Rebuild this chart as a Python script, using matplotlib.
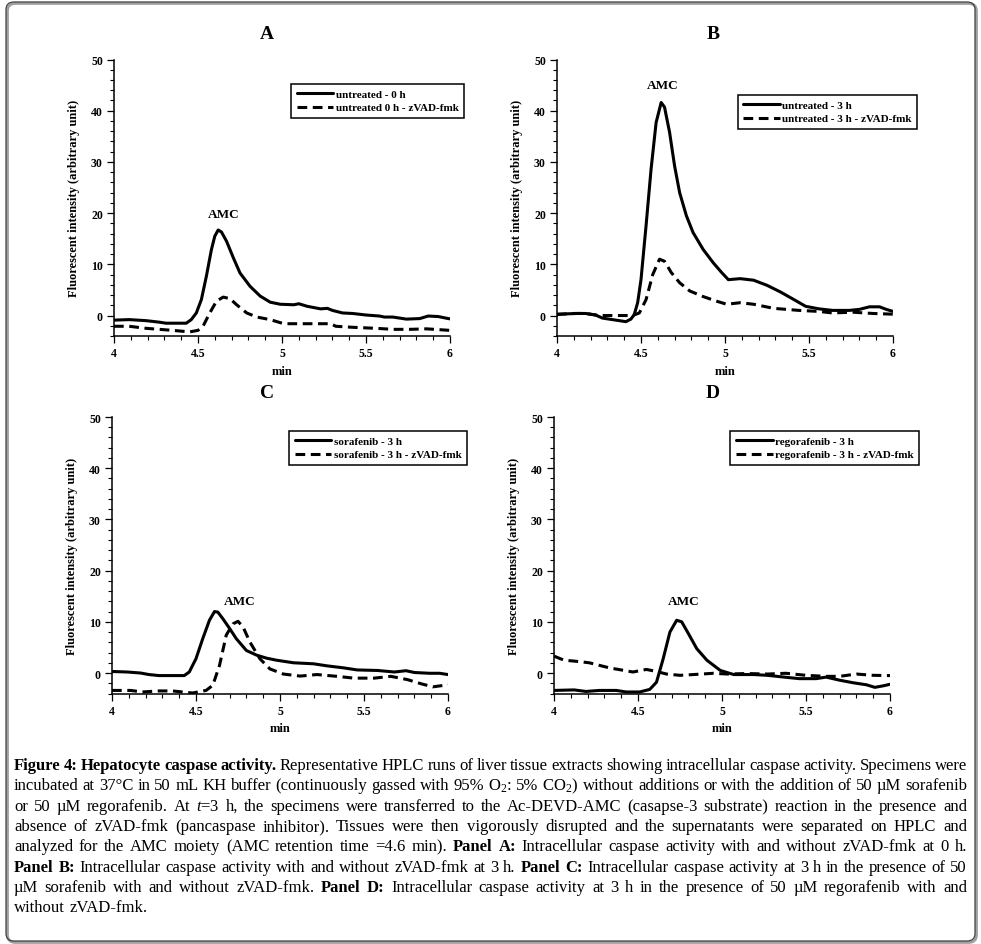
import numpy as np
import matplotlib.pyplot as plt
from matplotlib.ticker import MultipleLocator
from matplotlib.patches import FancyBboxPatch

plt.rcParams['font.family'] = 'Liberation Serif'
plt.rcParams['mathtext.fontset'] = 'custom'
plt.rcParams['mathtext.rm'] = 'Liberation Serif'
plt.rcParams['mathtext.it'] = 'Liberation Serif:italic'
plt.rcParams['mathtext.bf'] = 'Liberation Serif:bold'
plt.rcParams['lines.scale_dashes'] = False

# ---- data (min, fluorescence) ----
# Panel A
a_solid_t = [4.0, 4.09, 4.19, 4.27, 4.31, 4.43, 4.46, 4.49, 4.52, 4.55, 4.58, 4.60, 4.62, 4.64, 4.67,
             4.71, 4.75, 4.81, 4.87, 4.93, 4.99, 5.07, 5.10, 5.15, 5.23, 5.27, 5.30, 5.36, 5.42, 5.50,
             5.58, 5.61, 5.66, 5.74, 5.82, 5.87, 5.93, 5.99, 6.0]
a_solid_y = [-0.9, -0.8, -1.0, -1.3, -1.5, -1.5, -0.8, 0.5, 3.1, 7.7, 12.9, 15.5, 16.7, 16.3, 14.5,
             11.3, 8.3, 5.7, 3.8, 2.6, 2.2, 2.1, 2.3, 1.8, 1.3, 1.4, 1.0, 0.5, 0.4, 0.1,
             -0.1, -0.3, -0.3, -0.7, -0.6, -0.1, -0.2, -0.6, -0.65]
a_dash_t = [4.0, 4.09, 4.19, 4.27, 4.35, 4.45, 4.50, 4.53, 4.57, 4.61, 4.65, 4.69, 4.73, 4.79, 4.85,
            4.93, 5.01, 5.11, 5.29, 5.32, 5.42, 5.56, 5.66, 5.76, 5.86, 6.0]
a_dash_y = [-2.1, -2.1, -2.5, -2.7, -2.9, -3.2, -2.9, -2.1, 0.5, 2.8, 3.6, 3.3, 2.1, 0.5, -0.3,
            -0.8, -1.6, -1.6, -1.6, -2.1, -2.3, -2.5, -2.7, -2.7, -2.6, -2.9]

# Panel B
b_solid_t = [4.0, 4.12, 4.17, 4.23, 4.27, 4.33, 4.41, 4.44, 4.46, 4.48, 4.50, 4.53, 4.56, 4.59, 4.62,
             4.64, 4.67, 4.70, 4.73, 4.77, 4.81, 4.87, 4.93, 4.98, 5.02, 5.09, 5.17, 5.25, 5.33, 5.40,
             5.48, 5.56, 5.64, 5.74, 5.80, 5.86, 5.92, 5.96, 6.0]
b_solid_y = [0.26, 0.4, 0.4, 0.1, -0.5, -0.8, -1.2, -0.7, 0.2, 2.5, 7.0, 17.5, 28.6, 37.7, 41.6,
             40.7, 35.8, 29.2, 24.0, 19.5, 16.2, 12.9, 10.3, 8.4, 7.0, 7.2, 6.9, 5.9, 4.6, 3.3,
             1.8, 1.3, 1.0, 1.0, 1.2, 1.7, 1.7, 1.2, 0.8]
b_dash_t = [4.0, 4.10, 4.17, 4.25, 4.45, 4.49, 4.53, 4.57, 4.61, 4.64, 4.68, 4.73, 4.79, 4.87, 4.95,
            5.01, 5.09, 5.17, 5.29, 5.44, 5.56, 5.64, 5.76, 5.88, 6.0]
b_dash_y = [0.2, 0.4, 0.4, 0.0, 0.0, 0.5, 3.1, 8.0, 11.0, 10.6, 8.4, 6.4, 4.8, 3.7, 2.8,
            2.2, 2.5, 2.2, 1.4, 1.0, 0.8, 0.5, 0.65, 0.4, 0.26]

# Panel C
c_solid_t = [4.0, 4.09, 4.17, 4.22, 4.28, 4.36, 4.43, 4.46, 4.50, 4.54, 4.58, 4.61, 4.63, 4.66, 4.70,
             4.74, 4.80, 4.86, 4.92, 4.98, 5.08, 5.20, 5.28, 5.38, 5.46, 5.58, 5.68, 5.75, 5.80, 5.89,
             5.95, 6.0]
c_solid_y = [0.3, 0.2, 0.0, -0.3, -0.5, -0.5, -0.5, 0.2, 2.8, 6.7, 10.3, 12.0, 11.9, 10.6, 8.7,
             6.7, 4.4, 3.5, 2.9, 2.5, 2.0, 1.8, 1.4, 1.0, 0.6, 0.5, 0.2, 0.45, 0.1, -0.05,
             -0.05, -0.3]
c_dash_t = [4.0, 4.11, 4.18, 4.28, 4.36, 4.48, 4.56, 4.60, 4.64, 4.68, 4.72, 4.75, 4.78, 4.82, 4.88,
            4.94, 5.02, 5.12, 5.22, 5.34, 5.44, 5.56, 5.66, 5.76, 5.84, 5.91, 6.0]
c_dash_y = [-3.4, -3.4, -3.7, -3.5, -3.5, -3.9, -3.4, -2.4, 1.5, 7.4, 9.6, 10.1, 9.0, 6.1, 2.8,
            0.8, -0.2, -0.6, -0.3, -0.65, -1.0, -1.0, -0.65, -1.3, -2.1, -2.7, -2.3]

# Panel D
d_solid_t = [4.0, 4.12, 4.19, 4.27, 4.37, 4.43, 4.51, 4.57, 4.61, 4.65, 4.69, 4.73, 4.76, 4.80, 4.85,
             4.91, 4.99, 5.07, 5.19, 5.27, 5.37, 5.46, 5.56, 5.62, 5.70, 5.78, 5.86, 5.91, 5.96, 6.0]
d_solid_y = [-3.4, -3.3, -3.6, -3.4, -3.4, -3.7, -3.7, -3.2, -1.8, 2.8, 8.0, 10.3, 10.0, 7.7, 4.75,
             2.5, 0.5, -0.3, -0.3, -0.45, -0.8, -1.1, -1.1, -0.8, -1.4, -1.9, -2.3, -2.8, -2.5, -2.2]
d_dash_t = [4.0, 4.06, 4.13, 4.21, 4.33, 4.47, 4.55, 4.61, 4.67, 4.75, 4.83, 4.95, 5.03, 5.15, 5.27,
            5.38, 5.50, 5.62, 5.70, 5.80, 5.90, 6.0]
d_dash_y = [3.3, 2.5, 2.3, 2.0, 1.0, 0.2, 0.7, 0.3, -0.2, -0.45, -0.3, -0.05, -0.2, -0.1, -0.2,
            -0.05, -0.45, -0.65, -0.65, -0.2, -0.45, -0.5]

panel_names = ['A', 'B', 'C', 'D']
legend_solid = ['untreated - 0 h', 'untreated - 3 h', 'sorafenib - 3 h', 'regorafenib - 3 h']
legend_dash = ['untreated 0 h - zVAD-fmk', 'untreated - 3 h - zVAD-fmk',
               'sorafenib - 3 h - zVAD-fmk', 'regorafenib - 3 h - zVAD-fmk']
amc_pos = [(4.65, 19.8), (4.63, 45.1), (4.76, 14.1), (4.77, 14.1)]

x_ticks = [4, 4.5, 5, 5.5, 6]
x_ticklabels = ['4', '4.5', '5', '5.5', '6']

caption = [
    "**Figure 4: Hepatocyte caspase activity.** Representative HPLC runs of liver tissue extracts showing intracellular caspase activity. Specimens were",
    "incubated at 37°C in 50 mL KH buffer (continuously gassed with 95% O$_\\mathregular{2}$: 5% CO$_\\mathregular{2}$) without additions or with the addition of 50 µM sorafenib",
    "or 50 µM regorafenib. At $t$=3 h, the specimens were transferred to the Ac-DEVD-AMC (casapse-3 substrate) reaction in the presence and",
    "absence of zVAD-fmk (pancaspase inhibitor). Tissues were then vigorously disrupted and the supernatants were separated on HPLC and",
    "analyzed for the AMC moiety (AMC retention time =4.6 min). **Panel A:** Intracellular caspase activity with and without zVAD-fmk at 0 h.",
    "**Panel B:** Intracellular caspase activity with and without zVAD-fmk at 3 h. **Panel C:** Intracellular caspase activity at 3 h in the presence of 50",
    "µM sorafenib with and without zVAD-fmk. **Panel D:** Intracellular caspase activity at 3 h in the presence of 50 µM regorafenib with and",
    "without zVAD-fmk.",
]

W, H = 981, 945
fig = plt.figure(figsize=(W / 100, H / 100), dpi=100)

# panel layout in pixels: left, right, top (y=50), bottom (y=-4)
boxes = [(114, 450, 60.5, 337), (557, 893, 60.5, 337),
         (112, 448, 418, 694.5), (554, 890, 418, 694.5)]
legend_anchor = [(464, 85), (917, 96), (467, 432), (919, 432)]
title_pos = [(267, 35), (713, 35), (267, 394), (713, 394)]

series = [
    (a_solid_t, a_solid_y, a_dash_t, a_dash_y),
    (b_solid_t, b_solid_y, b_dash_t, b_dash_y),
    (c_solid_t, c_solid_y, c_dash_t, c_dash_y),
    (d_solid_t, d_solid_y, d_dash_t, d_dash_y),
]

for i, (st, sy, dt, dy) in enumerate(series):
    l, r, t, b = boxes[i]
    ax = fig.add_axes([l / W, 1 - b / H, (r - l) / W, (b - t) / H])
    h1, = ax.plot(st, sy, color='black', lw=2.2, solid_joinstyle='round', solid_capstyle='round')
    h2, = ax.plot(dt, dy, color='black', lw=2.2, dashes=(7, 4))
    ax.set_xlim(4, 6)
    ax.set_ylim(-4, 50)
    ax.spines['top'].set_visible(False)
    ax.spines['right'].set_visible(False)
    ax.spines['left'].set_linewidth(1.1)
    ax.spines['bottom'].set_linewidth(1.1)
    ax.set_xticks(x_ticks)
    ax.set_xticklabels(x_ticklabels)
    ax.xaxis.set_minor_locator(MultipleLocator(0.1))
    ax.yaxis.set_major_locator(MultipleLocator(10))
    ax.yaxis.set_minor_locator(MultipleLocator(2))
    ax.set_yticks([0, 10, 20, 30, 40, 50])
    ax.tick_params(which='major', length=5, width=0.9, pad=3, labelsize=8.5)
    ax.tick_params(which='minor', length=3, width=0.8)
    for lab in ax.get_xticklabels() + ax.get_yticklabels():
        lab.set_fontweight('bold')
    ax.set_xlabel('min', fontsize=9, fontweight='bold', labelpad=4)
    ax.set_ylabel('Fluorescent intensity (arbitrary unit)', fontsize=9, fontweight='bold', labelpad=8)
    ax.text(amc_pos[i][0], amc_pos[i][1], 'AMC', fontsize=9.5, fontweight='bold',
            ha='center', va='center')
    lx, ly = legend_anchor[i]
    leg = ax.legend([h1, h2], [legend_solid[i], legend_dash[i]], loc='upper right',
                    bbox_to_anchor=(lx / W, 1 - ly / H), bbox_transform=fig.transFigure,
                    borderaxespad=0, fancybox=False, edgecolor='black', framealpha=1,
                    handlelength=3.3, handletextpad=0.2, labelspacing=0.3, borderpad=0.5,
                    prop={'weight': 'bold', 'size': 8})
    leg.get_frame().set_linewidth(1.1)
    tx, ty = title_pos[i]
    fig.text(tx / W, 1 - ty / H, panel_names[i], fontsize=14, fontweight='bold',
             ha='center', va='center')

# outer frame with a faint shadow
fig.patches.append(FancyBboxPatch((7.5 / W, 1 - 943.5 / H), 969 / W, 939 / H,
                                  boxstyle='round,pad=0,rounding_size=0.008',
                                  transform=fig.transFigure, fill=False,
                                  edgecolor='#a0a0a0', lw=2.0, zorder=0))
fig.patches.append(FancyBboxPatch((6 / W, 1 - 942 / H), 969 / W, 939 / H,
                                  boxstyle='round,pad=0,rounding_size=0.008',
                                  transform=fig.transFigure, fill=False,
                                  edgecolor='#404040', lw=0.9, zorder=1))


def parse(line):
    out = []
    bold = False
    for w in line.split(' '):
        if w.startswith('**'):
            w = w[2:]
            bold = True
        b = bold
        if w.endswith('**'):
            w = w[:-2]
            bold = False
        out.append((w, b))
    return out


# justified caption, placed word by word
renderer = fig.canvas.get_renderer()
x_left, x_right = 14, 967
cap_size = 12
for i, line in enumerate(caption):
    toks = parse(line)
    y = 1 - (770 + 20.3 * i) / H
    texts = [fig.text(0, y, w, fontsize=cap_size, fontweight='bold' if b else 'normal',
                      va='baseline', ha='left') for w, b in toks]
    widths = [t.get_window_extent(renderer).width for t in texts]
    if i < len(caption) - 1 and len(texts) > 1:
        gap = (x_right - x_left - sum(widths)) / (len(texts) - 1)
    else:
        gap = 4.2
    x = x_left
    for t, w in zip(texts, widths):
        t.set_x(x / W)
        x += w + gap

fig.savefig('out.png', dpi=100)
